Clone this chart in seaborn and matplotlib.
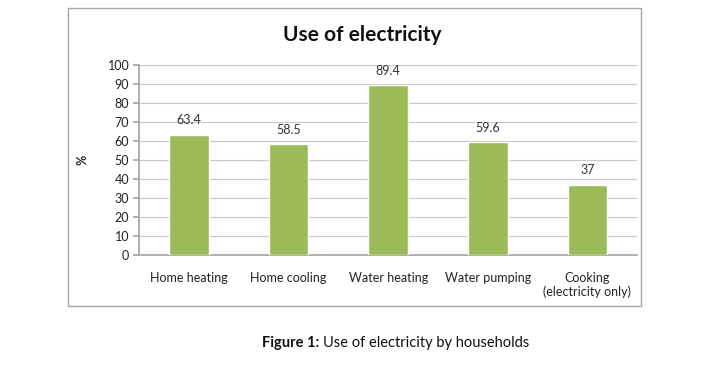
import matplotlib
matplotlib.use("Agg")
import matplotlib.pyplot as plt
import seaborn as sns
import pandas as pd
from matplotlib.patches import Rectangle

categories = ["Home heating", "Home cooling", "Water heating", "Water pumping",
              "Cooking\n(electricity only)"]
values = [63.4, 58.5, 89.4, 59.6, 37]
value_labels = ["63.4", "58.5", "89.4", "59.6", "37"]
y_ticks = [0, 10, 20, 30, 40, 50, 60, 70, 80, 90, 100]

df = pd.DataFrame({"use": categories, "pct": values})

sns.set_theme(style="white")
plt.rcParams["font.family"] = ["Lato", "DejaVu Sans"]

fig = plt.figure(figsize=(7.18, 3.68), dpi=100)
ax = fig.add_axes([0.1936, 0.307, 0.694, 0.516])

# chart border box
fig.patches.append(Rectangle((0.0947, 0.168), 0.798, 0.81, transform=fig.transFigure,
                             fill=False, edgecolor="#a6a6a6", linewidth=1.0))

sns.barplot(data=df, x="use", y="pct", color="#9bbb59", width=0.4, saturation=1,
            ax=ax, zorder=3)

for p, lab in zip(ax.patches, value_labels):
    ax.annotate(lab, (p.get_x() + p.get_width() / 2, p.get_height()),
                xytext=(0, 6), textcoords="offset points", ha="center", va="bottom",
                fontsize=9, color="#333333")

ax.set_ylim(0, 100)
ax.set_yticks(y_ticks)
ax.yaxis.grid(True, color="#c8c8c8", linewidth=0.8, zorder=0)
ax.set_axisbelow(True)
for s in ["top", "right"]:
    ax.spines[s].set_visible(False)
ax.spines["left"].set_color("#a6a6a6")
ax.spines["bottom"].set_color("#a6a6a6")
ax.tick_params(axis="y", left=True, length=4, color="#a6a6a6", labelsize=9,
               labelcolor="#222222", pad=3)
ax.tick_params(axis="x", bottom=False, labelsize=9, labelcolor="#222222", pad=6)
ax.set_xlabel("")
ax.set_ylabel("%", fontsize=9, fontweight="bold", labelpad=14, color="#222222")

fig.text(0.504, 0.905, "Use of electricity", ha="center", va="center",
         fontsize=15, fontweight="bold", color="#111111")

# caption: bold lead-in followed by plain text
cap = fig.text(0.365, 0.068, "Figure 1:", ha="left", va="center", fontsize=10.5,
               fontweight="bold", color="#111111")
ax.annotate("Use of electricity by households", xy=(1, 0.5), xycoords=cap,
            xytext=(3, 0), textcoords="offset points", ha="left", va="center",
            fontsize=10.5, color="#111111", annotation_clip=False)

fig.savefig("out.png", dpi=100)
